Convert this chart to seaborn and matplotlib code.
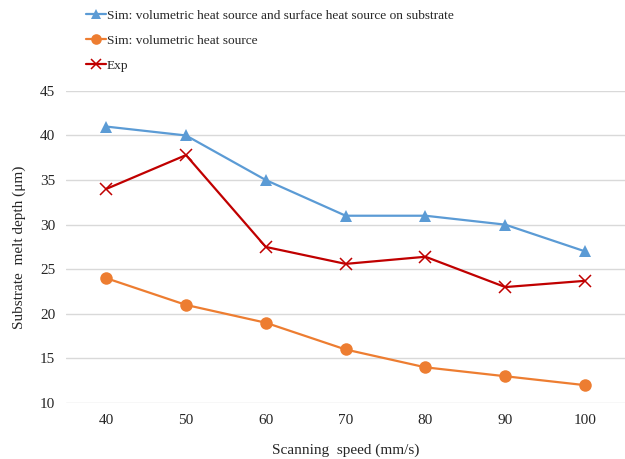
import matplotlib
matplotlib.use("Agg")
import matplotlib.pyplot as plt
import pandas as pd
import seaborn as sns

# data
speed = [40, 50, 60, 70, 80, 90, 100]
sim_vol_surf = [41, 40, 35, 31, 31, 30, 27]
sim_vol = [24, 21, 19, 16, 14, 13, 12]
exp_depth = [34.0, 37.8, 27.5, 25.6, 26.4, 23.0, 23.7]

names = ["Sim: volumetric heat source and surface heat source on substrate",
         "Sim: volumetric heat source",
         "Exp"]
colors = ["#5B9BD5", "#ED7D31", "#C00000"]
markers = ["^", "o", "x"]

sns.set_style("white")
plt.rcParams["font.family"] = ["Liberation Serif", "DejaVu Serif"]

fig = plt.figure(figsize=(6.25, 4.59), dpi=100)
ax = fig.add_axes([0.106, 0.122, 0.894, 0.680])

for vals, name, c, m in zip([sim_vol_surf, sim_vol, exp_depth], names, colors, markers):
    d = pd.DataFrame({"speed": speed, "depth": vals})
    if m == "x":
        sns.lineplot(data=d, x="speed", y="depth", color=c, marker=m,
                     linewidth=1.6, markersize=8, markeredgewidth=1.1,
                     markeredgecolor=c, ax=ax, label=name)
    else:
        sns.lineplot(data=d, x="speed", y="depth", color=c, marker=m,
                     linewidth=1.6, markersize=9, markeredgewidth=0,
                     ax=ax, label=name)

handles, labels = ax.get_legend_handles_labels()
ax.get_legend().remove()

ax.set_xlim(35, 105)
ax.set_ylim(10, 45)
ax.set_xticks(speed)
ax.set_yticks(range(10, 46, 5))
ax.yaxis.grid(True, color="#d9d9d9", linewidth=1)
ax.set_axisbelow(True)
for s in ax.spines.values():
    s.set_visible(False)
ax.tick_params(length=0, labelsize=11, colors="#262626", pad=8)
ax.set_xlabel("Scanning  speed (mm/s)", fontsize=11, color="#262626", labelpad=12)
ax.set_ylabel("Substrate  melt depth (\u03bcm)", fontsize=11, color="#262626", labelpad=10)

fig.legend(handles, labels, loc="upper left", bbox_to_anchor=(0.118, 1.005),
           frameon=False, fontsize=9.6, handlelength=1.5, handletextpad=0.1,
           labelspacing=0.95, labelcolor="#262626", markerscale=0.85)

fig.savefig("out.png", dpi=100)
